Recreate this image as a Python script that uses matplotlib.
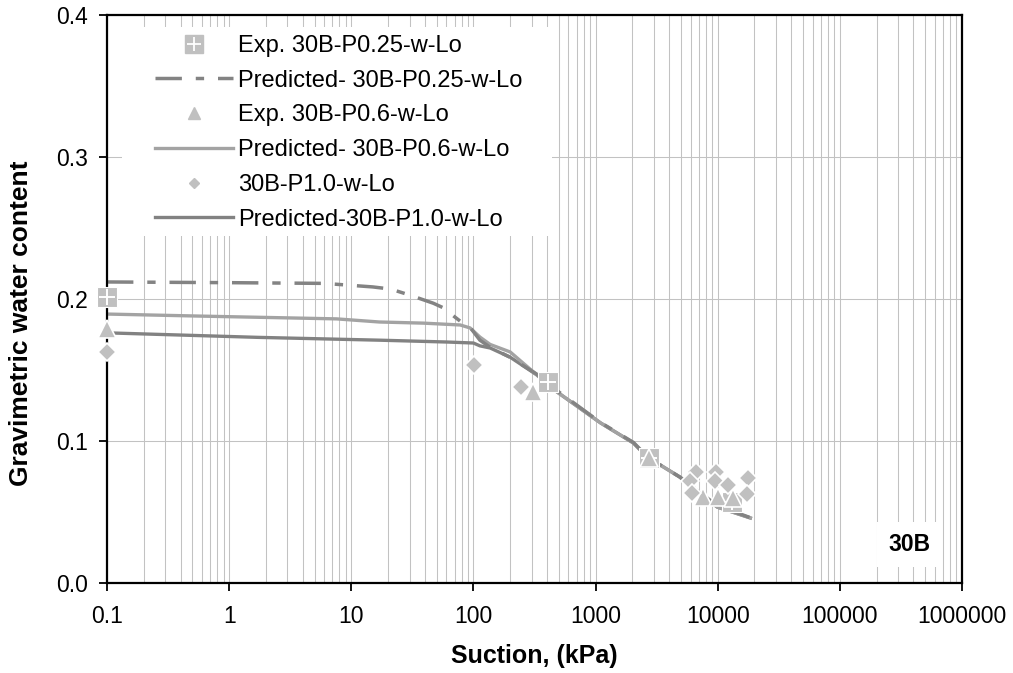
import matplotlib
matplotlib.use("Agg")
import matplotlib.pyplot as plt
from matplotlib.lines import Line2D
from matplotlib.patches import Rectangle
from matplotlib.ticker import FixedLocator, LogLocator, NullFormatter

plt.rcParams['font.family'] = ['Liberation Sans', 'DejaVu Sans']
plt.rcParams['lines.scale_dashes'] = False

# Measured points (suction in kPa, gravimetric water content)
exp_p025_suction = [0.1, 410, 2750, 13000]
exp_p025_w = [0.2015, 0.1415, 0.088, 0.057]

exp_p06_suction = [0.1, 310, 2750, 7600, 10100, 13400]
exp_p06_w = [0.179, 0.1345, 0.088, 0.0606, 0.0606, 0.0600]

exp_p10_suction = [0.1, 101, 246, 6700, 9700, 5900, 9500, 12200, 17800, 17500, 6200]
exp_p10_w = [0.1627, 0.1535, 0.138, 0.078, 0.078, 0.0715, 0.0715, 0.069, 0.074, 0.0625, 0.0635]

# Predicted curves
pred_p025_suction = [0.1, 1, 6, 15, 21, 30, 47, 56, 79, 94, 113, 137, 199, 331, 425,
                     1100, 2040, 2800, 3400, 4900, 9900, 18500]
pred_p025_w = [0.212, 0.2115, 0.211, 0.2085, 0.207, 0.2028, 0.197, 0.194, 0.184, 0.180,
               0.171, 0.166, 0.159, 0.147, 0.139, 0.113, 0.099, 0.087, 0.083, 0.0746,
               0.0545, 0.046]

pred_p06_suction = [0.1, 0.55, 7.6, 17, 39, 78, 94, 113, 137, 200, 331, 425,
                    1100, 2040, 2800, 3400, 4900, 9900, 18500]
pred_p06_w = [0.1894, 0.188, 0.186, 0.1838, 0.183, 0.1817, 0.1796, 0.1732, 0.168, 0.1627,
              0.1465, 0.138, 0.1127, 0.0986, 0.0866, 0.083, 0.0746, 0.0535, 0.0458]

pred_p10_suction = [0.116, 1.7, 17, 61, 100, 113, 137, 200, 331, 425,
                    1100, 2040, 2800, 3400, 4900, 9900, 18500]
pred_p10_w = [0.176, 0.173, 0.171, 0.1697, 0.169, 0.167, 0.1655, 0.159, 0.1465, 0.138,
              0.1127, 0.0986, 0.0866, 0.083, 0.0746, 0.0535, 0.0458]

x_ticks = [0.1, 1, 10, 100, 1000, 10000, 100000, 1000000]
x_tick_labels = ['0.1', '1', '10', '100', '1000', '10000', '100000', '1000000']
y_ticks = [0.0, 0.1, 0.2, 0.3, 0.4]
y_tick_labels = ['0.0', '0.1', '0.2', '0.3', '0.4']

label_p025_exp = 'Exp. 30B-P0.25-w-Lo'
label_p025_pred = 'Predicted- 30B-P0.25-w-Lo'
label_p06_exp = 'Exp. 30B-P0.6-w-Lo'
label_p06_pred = 'Predicted- 30B-P0.6-w-Lo'
label_p10_exp = '30B-P1.0-w-Lo'
label_p10_pred = 'Predicted-30B-P1.0-w-Lo'

marker_grey = '#c0c0c0'
dash_grey = '#838383'
light_grey = '#a3a3a3'
dark_grey = '#828282'

fig = plt.figure(figsize=(10.13, 6.73), dpi=100)
ax = fig.add_axes([107 / 1013, 90 / 673, 855 / 1013, 568 / 673])

ax.set_xscale('log')
ax.set_xlim(0.1, 1000000)
ax.set_ylim(0.0, 0.4)

# Grid: every decade plus the 2..9 subdivisions, horizontal at the major y ticks
ax.xaxis.set_major_locator(FixedLocator(x_ticks))
ax.xaxis.set_minor_locator(LogLocator(base=10, subs=[2, 3, 4, 5, 6, 7, 8, 9], numticks=20))
ax.xaxis.set_minor_formatter(NullFormatter())
ax.set_xticklabels(x_tick_labels)
ax.set_yticks(y_ticks)
ax.set_yticklabels(y_tick_labels)
ax.grid(True, which='major', axis='both', color='#c2c2c2', lw=0.75)
ax.grid(True, which='minor', axis='x', color='#c2c2c2', lw=0.75)
ax.set_axisbelow(True)

ax.tick_params(axis='x', which='major', direction='out', length=6, width=1.3,
               labelsize=16.5, pad=10)
ax.tick_params(axis='x', which='minor', length=0)
ax.tick_params(axis='y', which='major', direction='out', length=6, width=1.3,
               labelsize=16.5, pad=8)
for sp in ax.spines.values():
    sp.set_linewidth(1.6)
    sp.set_color('black')

# Predicted curves
ax.plot(pred_p025_suction, pred_p025_w, color=dash_grey, lw=2.5,
        linestyle=(0, (19, 10, 6, 10)), zorder=2.2)
ax.plot(pred_p06_suction, pred_p06_w, color=light_grey, lw=2.4, zorder=2.1)
ax.plot(pred_p10_suction, pred_p10_w, color=dark_grey, lw=2.4, zorder=2.0)

# Measured points
ax.plot(exp_p025_suction, exp_p025_w, ls='none', marker='s', ms=15, mfc=marker_grey,
        mec='white', mew=0.8, zorder=3, clip_on=False)
ax.plot(exp_p025_suction, exp_p025_w, ls='none', marker='+', ms=11, mec='white',
        mew=1.4, zorder=3.1, clip_on=False)
ax.plot(exp_p06_suction, exp_p06_w, ls='none', marker='^', ms=13, mfc=marker_grey,
        mec='white', mew=1.2, zorder=3.2, clip_on=False)
ax.plot(exp_p10_suction, exp_p10_w, ls='none', marker='D', ms=9, mfc=marker_grey,
        mec='white', mew=1.2, zorder=3.3, clip_on=False)

# Legend area (white panel over the grid)
ax.add_patch(Rectangle(((122 - 107) / 855, (583 - 236) / 568), (552 - 122) / 855,
                       (236 - 27) / 568, transform=ax.transAxes, facecolor='white',
                       edgecolor='none', zorder=1.8))

h_sq = Line2D([], [], ls='none', marker='s', ms=13.5, mfc=marker_grey, mec=marker_grey)
h_plus = Line2D([], [], ls='none', marker='+', ms=9.5, mec='white', mew=1.3)
h_dash = Line2D([], [], color=dash_grey, lw=2.5, linestyle=(0, (19, 10, 6, 10)))
h_tri = Line2D([], [], ls='none', marker='^', ms=8, mfc=marker_grey, mec=marker_grey)
h_p06 = Line2D([], [], color=light_grey, lw=2.4)
h_dia = Line2D([], [], ls='none', marker='D', ms=5.5, mfc=marker_grey, mec=marker_grey)
h_p10 = Line2D([], [], color=dark_grey, lw=2.4)

leg = ax.legend([(h_sq, h_plus), h_dash, h_tri, h_p06, h_dia, h_p10],
                [label_p025_exp, label_p025_pred, label_p06_exp, label_p06_pred,
                 label_p10_exp, label_p10_pred],
                loc='upper left', bbox_to_anchor=((155 - 107) / 855, (583 - 35) / 568),
                frameon=False, fontsize=17, handlelength=3.3, handletextpad=0.2,
                labelspacing=0.54, borderpad=0, borderaxespad=0)
leg.set_zorder(5)

ax.text(0.938, 0.067, '30B', transform=ax.transAxes, ha='center', va='center',
        fontsize=16.5, fontweight='bold', zorder=6,
        bbox=dict(facecolor='white', edgecolor='none', pad=8))

ax.set_xlabel('Suction, (kPa)', fontsize=18, fontweight='bold')
ax.xaxis.set_label_coords(0.5, (583 - 644) / 568)
ax.set_ylabel('Gravimetric water content', fontsize=19, fontweight='bold')
ax.yaxis.set_label_coords((33 - 107) / 855, (583 - 323) / 568)

fig.savefig('out.png', dpi=100)
